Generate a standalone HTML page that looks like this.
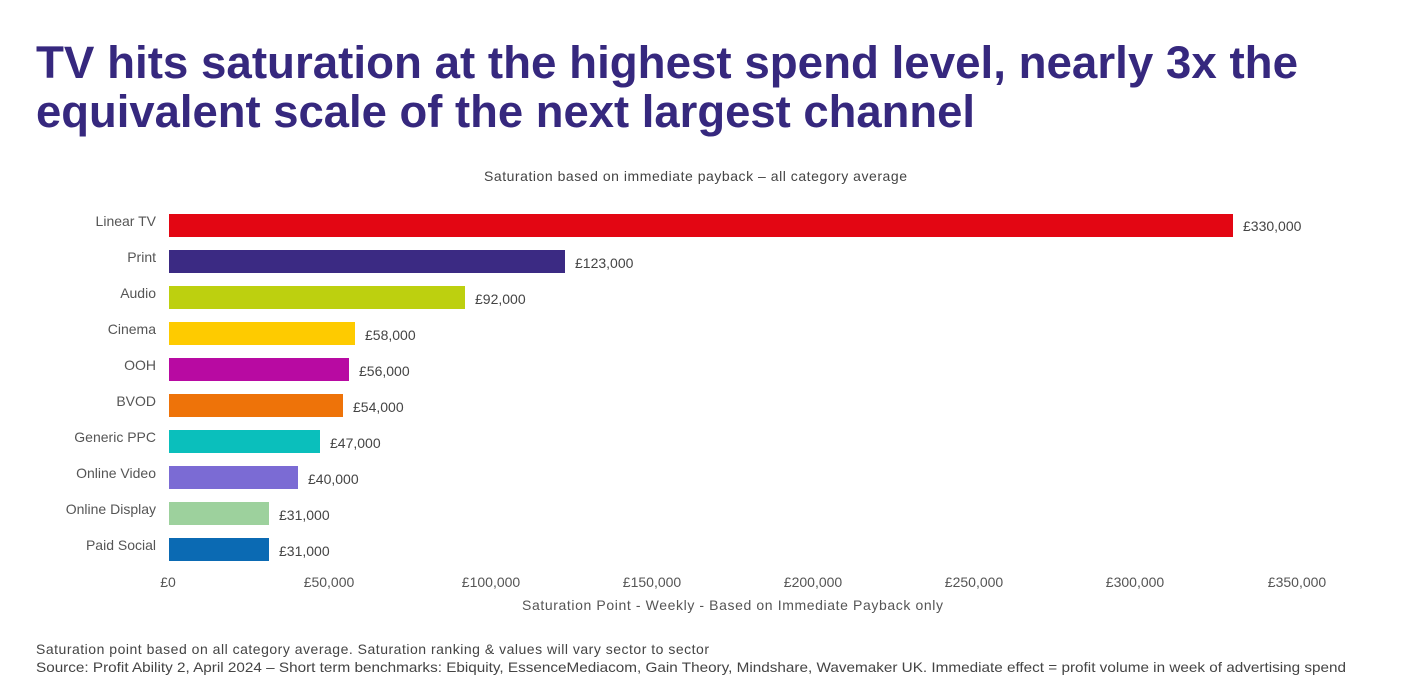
<!DOCTYPE html>
<html><head><meta charset="utf-8"><style>
html,body{margin:0;padding:0;background:#fff;}
svg{display:block;font-family:"Liberation Sans",Arial,sans-serif;}
</style></head><body>
<svg width="1417" height="698" viewBox="0 0 1417 698">
<rect width="1417" height="698" fill="#fff"/>
<g font-weight="bold" font-size="45" fill="#36287e">
<text x="36" y="78" textLength="1262" lengthAdjust="spacingAndGlyphs">TV hits saturation at the highest spend level, nearly 3x the</text>
<text x="36" y="127" textLength="939" lengthAdjust="spacingAndGlyphs">equivalent scale of the next largest channel</text>
</g>
<text x="484" y="181" font-size="14" fill="#444" textLength="423" lengthAdjust="spacing">Saturation based on immediate payback – all category average</text>
<g font-size="14" fill="#555" text-anchor="end">
<text x="156" y="226">Linear TV</text>
<text x="156" y="262">Print</text>
<text x="156" y="298">Audio</text>
<text x="156" y="334">Cinema</text>
<text x="156" y="370">OOH</text>
<text x="156" y="406">BVOD</text>
<text x="156" y="442">Generic PPC</text>
<text x="156" y="478">Online Video</text>
<text x="156" y="514">Online Display</text>
<text x="156" y="550">Paid Social</text>
</g>
<g>
<rect x="169" y="214" width="1064" height="23" fill="#e30613"/>
<rect x="169" y="250" width="396" height="23" fill="#3b2a83"/>
<rect x="169" y="286" width="296" height="23" fill="#bdd00f"/>
<rect x="169" y="322" width="186" height="23" fill="#fecb00"/>
<rect x="169" y="358" width="180" height="23" fill="#b80aa2"/>
<rect x="169" y="394" width="174" height="23" fill="#ee7309"/>
<rect x="169" y="430" width="151" height="23" fill="#0abfbc"/>
<rect x="169" y="466" width="129" height="23" fill="#7b6bd4"/>
<rect x="169" y="502" width="100" height="23" fill="#9dd19d"/>
<rect x="169" y="538" width="100" height="23" fill="#0b6ab3"/>
</g>
<g font-size="14" fill="#444">
<text x="1243" y="231">£330,000</text>
<text x="575" y="268">£123,000</text>
<text x="475" y="304">£92,000</text>
<text x="365" y="340">£58,000</text>
<text x="359" y="376">£56,000</text>
<text x="353" y="412">£54,000</text>
<text x="330" y="448">£47,000</text>
<text x="308" y="484">£40,000</text>
<text x="279" y="520">£31,000</text>
<text x="279" y="556">£31,000</text>
</g>
<g font-size="14" fill="#555" text-anchor="middle">
<text x="168" y="587">£0</text>
<text x="329" y="587">£50,000</text>
<text x="491" y="587">£100,000</text>
<text x="652" y="587">£150,000</text>
<text x="813" y="587">£200,000</text>
<text x="974" y="587">£250,000</text>
<text x="1135" y="587">£300,000</text>
<text x="1297" y="587">£350,000</text>
</g>
<text x="522" y="610" font-size="14" fill="#555" textLength="421" lengthAdjust="spacing">Saturation Point - Weekly - Based on Immediate Payback only</text>
<g font-size="14" fill="#444">
<text x="36" y="654" textLength="673" lengthAdjust="spacing">Saturation point based on all category average.  Saturation ranking &amp; values will vary sector to sector</text>
<text x="36" y="672" textLength="1310" lengthAdjust="spacingAndGlyphs">Source: Profit Ability 2, April 2024 – Short term benchmarks: Ebiquity, EssenceMediacom, Gain Theory, Mindshare, Wavemaker UK. Immediate effect = profit volume in week of advertising spend</text>
</g>
</svg>
</body></html>
